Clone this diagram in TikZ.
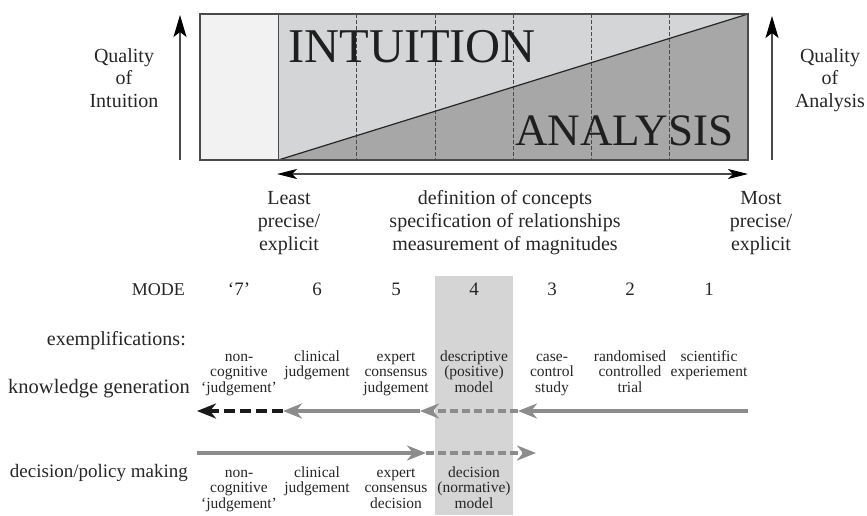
\documentclass[tikz,border=0pt]{standalone}
\usepackage{fontspec}
\setmainfont{Liberation Serif}
\usetikzlibrary{arrows.meta}
\definecolor{txt}{HTML}{262626}
\definecolor{lightcol}{HTML}{F2F2F2}
\definecolor{midcol}{HTML}{D4D5D6}
\definecolor{darkcol}{HTML}{A7A7A7}
\definecolor{arrgray}{HTML}{8C8C8C}
\definecolor{hicol}{HTML}{D5D5D5}
\definecolor{edgecol}{HTML}{4A4A4A}
\begin{document}
\begin{tikzpicture}[x=1pt,y=-1pt,
  lbl/.style={inner sep=0pt, text=txt, font=\fontsize{20}{22.5}\selectfont, align=center},
  lblb/.style={inner sep=0pt, text=txt, font=\fontsize{20}{23}\selectfont, align=center, anchor=north},
  small/.style={inner sep=0pt, text=txt, font=\fontsize{15.5}{15.5}\selectfont, align=center, anchor=north},
  modenum/.style={inner sep=0pt, text=txt, font=\fontsize{19}{21}\selectfont, anchor=base},
  rowlbl/.style={inner sep=0pt, text=txt, anchor=base east},
  big/.style={inner sep=0pt, text=black!88, anchor=base west},
  varrow/.style={draw=edgecol, line width=1.1pt, -{Stealth[length=22pt,width=13pt,inset=5pt,color=black]}},
  harrow/.style={draw=edgecol, line width=1.1pt, {Stealth[length=20pt,width=10pt,inset=5pt,color=black]}-{Stealth[length=20pt,width=10pt,inset=5pt,color=black]}},
  garrow/.style={draw=arrgray, line width=4pt, -{Stealth[length=19pt,width=15pt,inset=6pt]}},
  gdash/.style={dash pattern=on 8pt off 4pt},
  barrow/.style={draw=black!90, line width=4pt, dash pattern=on 11pt off 5pt, -{Stealth[length=19pt,width=15pt,inset=6pt]}}
]
\useasboundingbox (0,0) rectangle (867,515);
% highlighted column
\fill[hicol] (434.9,276) rectangle (513.1,515);
% top box
\fill[lightcol] (200,14) rectangle (278.3,160);
\fill[midcol] (278.3,14) rectangle (748,160);
\fill[darkcol] (278.3,160) -- (748,14) -- (748,160) -- cycle;
\foreach \x in {356.6,434.9,513.1,591.4,669.7}
  \draw[edgecol, line width=0.8pt, dash pattern=on 4pt off 2pt] (\x,14) -- (\x,160);
\draw[edgecol, line width=1pt] (278.3,14) -- (278.3,160);
\draw[black!85, line width=1.2pt] (278.3,160) -- (748,14);
\draw[edgecol, line width=1.2pt] (200,14) rectangle (748,160);
\node[big, font=\fontsize{48.5}{50}\selectfont] (intu) at (288,62) {INTUITION};
\node[big, font=\fontsize{45}{47}\selectfont] (anal) at (515,145) {ANALYSIS};
% vertical arrows
\coordinate (qiB) at (180,160);
\coordinate (qiT) at (180,15);
\coordinate (qaB) at (772,160);
\coordinate (qaT) at (772,16);
\draw[varrow] (qiB) -- (qiT);
\draw[varrow] (qaB) -- (qaT);
\node[lbl, anchor=north] (qi) at (124,47) {\rule{0pt}{15pt}Quality\\of\\Intuition};
\node[lbl, anchor=north] (qa) at (830,47) {\rule{0pt}{15pt}Quality\\of\\Analysis};
% horizontal double arrow
\coordinate (haL) at (277,174);
\coordinate (haR) at (748,174);
\draw[harrow] (haL) -- (haR);
\node[lblb] (least) at (289,189) {\rule{0pt}{15pt}Least\\precise/\\explicit};
\node[lblb] (defs) at (505,189) {\rule{0pt}{15pt}definition of concepts\\specification of relationships\\measurement of magnitudes};
\node[lblb] (most) at (761,189) {\rule{0pt}{15pt}Most\\precise/\\explicit};
% modes
\node[rowlbl, font=\fontsize{18}{20}\selectfont] (mode) at (185,295) {MODE};
\node[modenum] (m7) at (239,295) {‘7’};
\node[modenum] (m6) at (317,295) {6};
\node[modenum] (m5) at (396,295) {5};
\node[modenum] (m4) at (474,295) {4};
\node[modenum] (m3) at (552,295) {3};
\node[modenum] (m2) at (630,295) {2};
\node[modenum] (m1) at (709,295) {1};
% row labels
\node[rowlbl, font=\fontsize{20}{22}\selectfont] (exem) at (186,345) {exemplifications:};
\node[rowlbl, font=\fontsize{20.5}{22}\selectfont] (kgen) at (190,393) {knowledge generation};
\node[rowlbl, font=\fontsize{19}{21}\selectfont] (dpm) at (188,477) {decision/policy making};
% knowledge generation examples
\node[small] (k1) at (239,349) {\rule{0pt}{12pt}non-\\cognitive\\‘judgement’};
\node[small] (k2) at (317,349) {\rule{0pt}{12pt}clinical\\judgement};
\node[small] (k3) at (396,349) {\rule{0pt}{12pt}expert\\consensus\\judgement};
\node[small] (k4) at (474,349) {\rule{0pt}{12pt}descriptive\\(positive)\\model};
\node[small] (k5) at (552,349) {\rule{0pt}{12pt}case-\\control\\study};
\node[small] (k6) at (630,349) {\rule{0pt}{12pt}randomised\\controlled\\trial};
\node[small] (k7) at (709,349) {\rule{0pt}{12pt}scientific\\experiement};
% decision examples
\node[small] (d1) at (239,465) {\rule{0pt}{12pt}non-\\cognitive\\‘judgement’};
\node[small] (d2) at (317,465) {\rule{0pt}{12pt}clinical\\judgement};
\node[small] (d3) at (396,465) {\rule{0pt}{12pt}expert\\consensus\\decision};
\node[small] (d4) at (474,465) {\rule{0pt}{12pt}decision\\(normative)\\model};
% knowledge arrows
\coordinate (kA) at (748,411);
\coordinate (kB) at (518,411);
\coordinate (kC) at (420,411);
\coordinate (kD) at (283,411);
\coordinate (kE) at (197,411);
\draw[garrow] (kA) -- (kB);
\draw[garrow, gdash] (kB) -- (kC);
\draw[garrow] (kC) -- (kD);
\draw[barrow] (kD) -- (kE);
% decision arrows
\coordinate (dA) at (197,453);
\coordinate (dB) at (426,453);
\coordinate (dC) at (536,453);
\draw[garrow] (dA) -- (dB);
\draw[garrow, gdash] (dB) -- (dC);
\end{tikzpicture}
\end{document}
